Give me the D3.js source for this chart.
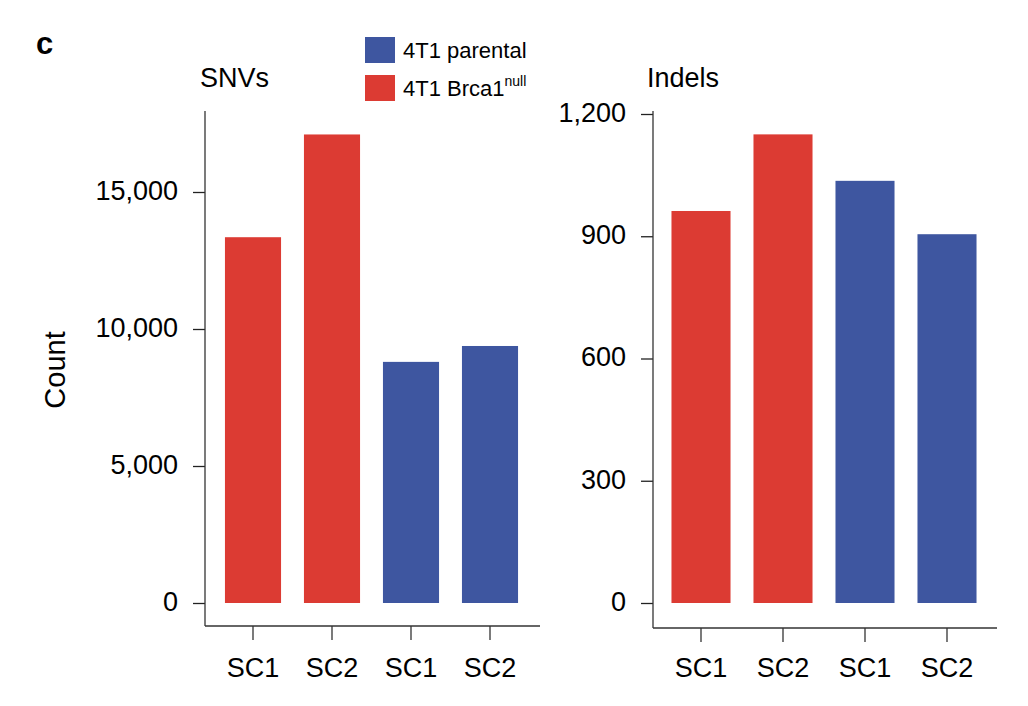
<!DOCTYPE html>
<html><head><meta charset="utf-8">
<script src="https://cdn.jsdelivr.net/npm/d3@7"></script>
<style>body{margin:0;background:#fff;} text{font-family:"Liberation Sans",Arial,Helvetica,sans-serif;}</style>
</head><body>
<svg id="c" width="1028" height="706"></svg>
<script>
const categories = ["SC1","SC2","SC1","SC2"];
const groups = ["Brca1null","Brca1null","parental","parental"];
const snvValues = [13350, 17100, 8800, 9380];
const indelValues = [962, 1150, 1036, 905];
const snvTicks = [0, 5000, 10000, 15000];
const indelTicks = [0, 300, 600, 900, 1200];
const legendKeys = ["parental","Brca1null"];
const colors = {parental:"#3E56A0", Brca1null:"#DC3B33"};

const svg = d3.select("#c");
const fmt = d3.format(",");
const FS = 27;

function panel(opt){
  const y = d3.scaleLinear().domain(opt.dom).range([603, opt.topTickY]);
  const x = d3.scaleBand().domain(d3.range(categories.length)).range(opt.xr).paddingInner(opt.pad).paddingOuter(opt.pad/2);
  const g = svg.append("g");
  g.selectAll("rect.bar").data(opt.values).join("rect")
    .attr("x",(d,i)=>x(i)).attr("width",x.bandwidth())
    .attr("y",d=>y(d)).attr("height",d=>y(0)-y(d))
    .attr("fill",(d,i)=>colors[groups[i]]);
  const ya = d3.axisLeft(y).tickValues(opt.ticks).tickFormat(fmt).tickSize(12).tickPadding(15);
  const yg = g.append("g").attr("transform",`translate(${opt.ax},0)`).call(ya);
  yg.select(".domain").remove();
  yg.selectAll("line").attr("stroke","#222").attr("stroke-width",1.3);
  yg.selectAll("text").attr("font-size",FS).attr("fill","#000").attr("dy","0.27em");
  g.append("line").attr("x1",opt.ax).attr("x2",opt.ax).attr("y1",111).attr("y2",opt.bottom)
    .attr("stroke","#333").attr("stroke-width",1.3);
  const xa = d3.axisBottom(x).tickFormat(i=>categories[i]).tickSize(14).tickPadding(opt.xpad);
  const xg = g.append("g").attr("transform",`translate(0,${opt.bottom})`).call(xa);
  xg.select(".domain").remove();
  xg.selectAll("line").attr("stroke","#333").attr("stroke-width",1.3);
  xg.selectAll("text").attr("font-size",FS).attr("fill","#000");
  g.append("line").attr("x1",opt.ax).attr("x2",opt.xend).attr("y1",opt.bottom).attr("y2",opt.bottom)
    .attr("stroke","#333").attr("stroke-width",1.3);
  g.append("text").attr("x",opt.tx).attr("y",87).attr("font-size",FS).text(opt.title);
}

panel({dom:[0,15000], topTickY:192, values:snvValues, ticks:snvTicks, xr:[213.5,529.5], pad:0.29,
       ax:205, bottom:626, xend:540, title:"SNVs", tx:200, xpad:18});
panel({dom:[0,1200], topTickY:114, values:indelValues, ticks:indelTicks, xr:[660,988], pad:0.28,
       ax:653, bottom:628, xend:997, title:"Indels", tx:647, xpad:16});

// y label
svg.append("text").attr("transform","translate(65,370) rotate(-90)").attr("text-anchor","middle")
  .attr("font-size",29).text("Count");

// legend
const lg = svg.append("g");
legendKeys.forEach((k,i)=>{
  const yy = 37 + i*38;
  lg.append("rect").attr("x",365).attr("y",yy).attr("width",30).attr("height",26).attr("fill",colors[k]);
  const t = lg.append("text").attr("x",403).attr("y",yy+21).attr("font-size",22);
  if(k==="parental") t.text("4T1 parental");
  else { t.append("tspan").text("4T1 Brca1"); t.append("tspan").attr("dy",-10).attr("font-size",14).text("null"); }
});

// panel letter
svg.append("text").attr("x",36).attr("y",54).attr("font-size",31).attr("font-weight","bold").text("c");
</script>
</body></html>
